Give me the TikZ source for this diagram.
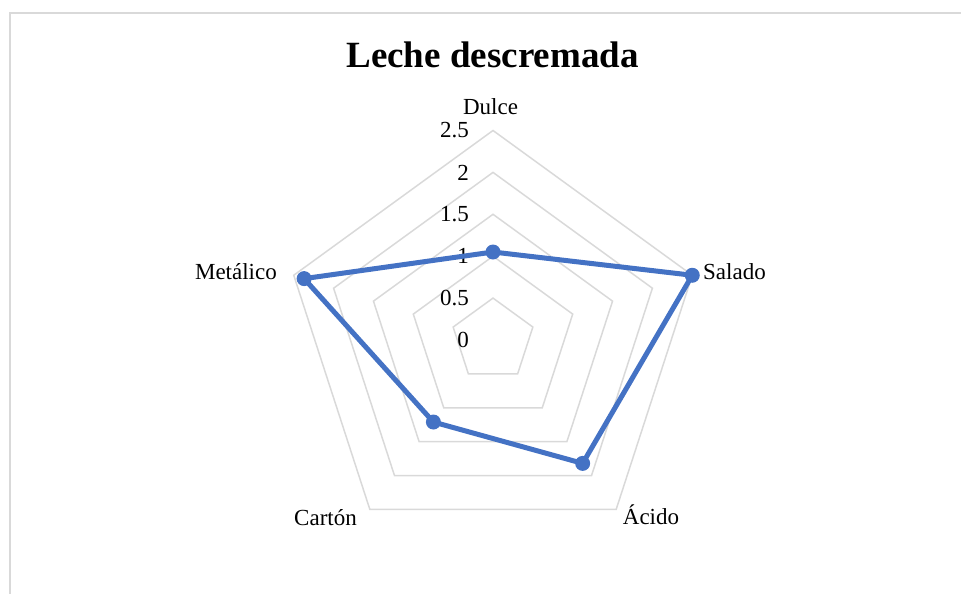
\documentclass[tikz,border=0pt]{standalone}
\usepackage{fontspec}
\setmainfont{Liberation Serif}
\definecolor{gridgray}{HTML}{D9D9D9}
\definecolor{framegray}{HTML}{D9D9D9}
\definecolor{serblue}{HTML}{4472C4}
\begin{document}
\begin{tikzpicture}[x=1pt,y=1pt,
  gridline/.style={draw=gridgray,line width=1.5pt},
  frameline/.style={draw=framegray,line width=2pt},
  series/.style={draw=serblue,line width=5pt,line join=round},
  dot/.style={circle,fill=serblue,inner sep=0pt,minimum size=15pt},
  lbl/.style={font=\fontsize{23}{27}\selectfont,inner sep=0pt},
  ttl/.style={font=\fontsize{37}{44}\selectfont\bfseries,inner sep=0pt}]
\useasboundingbox (0,0) rectangle (961,594);
\coordinate (fb) at (10,0);
\coordinate (ftl) at (10,581);
\coordinate (ftr) at (961,581);
\draw[frameline] (fb) -- (ftl) -- (ftr);
\node[ttl,anchor=base] (title) at (492.5,526.3) {Leche descremada};
\begin{scope}[shift={(493,254)}]
  \foreach \k in {1,...,5}
    \draw[gridline] (90:{\k*41.9}) -- (18:{\k*41.9}) -- (-54:{\k*41.9}) -- (-126:{\k*41.9}) -- (162:{\k*41.9}) -- cycle;
  \node[lbl,anchor=east] (t0) at (-24,0) {0};
  \node[lbl,anchor=east] (t1) at (-24,41.9) {0.5};
  \node[lbl,anchor=east] (t2) at (-24,83.8) {1};
  \node[lbl,anchor=east] (t3) at (-24,125.7) {1.5};
  \node[lbl,anchor=east] (t4) at (-24,167.6) {2};
  \node[lbl,anchor=east] (t5) at (-24,209.5) {2.5};
  \node[lbl,anchor=base] (cDulce) at (-2.5,225) {Dulce};
  \node[lbl,anchor=base east] (cMet) at (-216,60.5) {Metálico};
  \node[lbl,anchor=base west] (cSal) at (210,60) {Salado};
  \node[lbl,anchor=base west] (cAci) at (129.7,-184.5) {Ácido};
  \node[lbl,anchor=base west] (cCar) at (-199,-186) {Cartón};
  \coordinate (dDulce) at (90:{1.05*83.8});
  \coordinate (dSal) at (18:{2.5*83.8});
  \coordinate (dAci) at (-54:{1.82*83.8});
  \coordinate (dCar) at (-126:{1.21*83.8});
  \coordinate (dMet) at (162:{2.37*83.8});
  \draw[series] (dDulce) -- (dSal) -- (dAci) -- (dCar) -- (dMet) -- cycle;
  \node[dot] (mDulce) at (dDulce) {};
  \node[dot] (mSal) at (dSal) {};
  \node[dot] (mAci) at (dAci) {};
  \node[dot] (mCar) at (dCar) {};
  \node[dot] (mMet) at (dMet) {};
\end{scope}
\end{tikzpicture}
\end{document}
